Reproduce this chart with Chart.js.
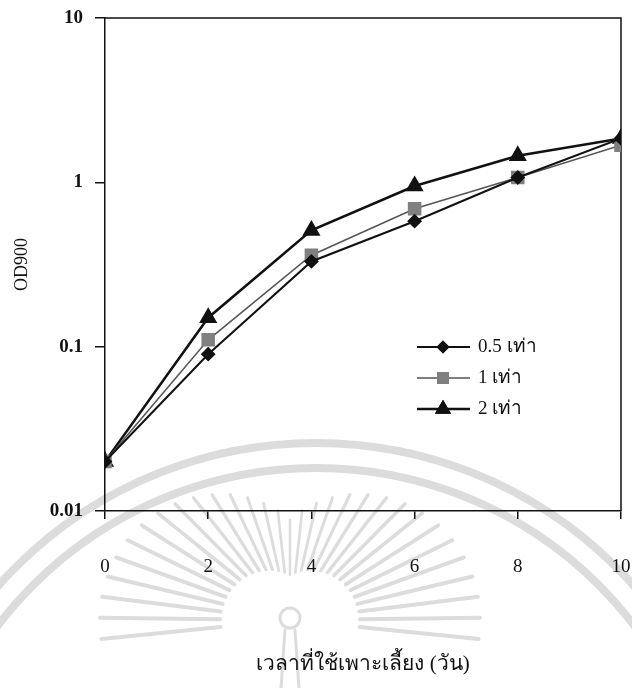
<!DOCTYPE html>
<html>
<head>
<meta charset="UTF-8">
<title>OD900</title>
<style>
  html, body { margin: 0; padding: 0; background: #fff; }
  #wrap { width: 632px; height: 688px; }
</style>
</head>
<body>
<div id="wrap"><canvas id="chart" width="632" height="688"></canvas></div>
<script src="https://cdn.jsdelivr.net/npm/chart.js@4/dist/chart.umd.min.js"></script>
<script>
  // culture time (days) and OD900 readings for each dose
  const days = [0, 2, 4, 6, 8, 10]
  const dose05 = [0.02, 0.09, 0.33, 0.58, 1.07, 1.85]
  const dose1 = [0.02, 0.11, 0.36, 0.69, 1.07, 1.68]
  const dose2 = [0.02, 0.15, 0.51, 0.95, 1.45, 1.85]
  const seriesNames = ['0.5 เท่า', '1 เท่า', '2 เท่า']
  const yTicks = [0.01, 0.1, 1, 10]
  const xTicks = [0, 2, 4, 6, 8, 10]

  const serif = "'Liberation Serif', 'Times New Roman', serif"

  const pts = vals => days.map((d, i) => ({ x: d, y: vals[i] }))

  const datasets = [
    { label: seriesNames[0], data: pts(dose05), borderColor: '#111', borderWidth: 2,
      pointStyle: 'rectRot', pointRadius: 6, pointBackgroundColor: '#111', pointBorderColor: '#111' },
    { label: seriesNames[1], data: pts(dose1), borderColor: '#555', borderWidth: 1.5,
      pointStyle: 'rect', pointRadius: 8.5, pointBackgroundColor: '#808080', pointBorderColor: '#808080' },
    { label: seriesNames[2], data: pts(dose2), borderColor: '#111', borderWidth: 2.5,
      pointStyle: 'triangle', pointRadius: 8, pointBackgroundColor: '#111', pointBorderColor: '#111' }
  ]

  // faint emblem printed behind the graph
  const emblem = {
    id: 'emblem',
    beforeDraw(chart) {
      const ctx = chart.ctx
      ctx.save()
      ctx.fillStyle = '#fff'
      ctx.fillRect(0, 0, chart.width, chart.height)
      ctx.strokeStyle = '#dcdcdc'
      ctx.lineCap = 'round'
      ctx.lineWidth = 8
      ctx.beginPath(); ctx.arc(316, 868, 425, Math.PI, 2 * Math.PI); ctx.stroke()
      ctx.beginPath(); ctx.arc(316, 868, 400, Math.PI, 2 * Math.PI); ctx.stroke()
      const cx = 290, cy = 620
      for (let i = 0; i <= 30; i++) {
        const a = -0.1 + i * (Math.PI + 0.2) / 30
        const c = Math.abs(Math.cos(a))
        const r0 = 45 + 25 * c, r1 = 100 + 90 * c
        ctx.lineWidth = 2.5 + 1.5 * c
        ctx.beginPath()
        ctx.moveTo(cx + Math.cos(a) * r0, cy - Math.sin(a) * r0)
        ctx.lineTo(cx + Math.cos(a) * r1, cy - Math.sin(a) * r1)
        ctx.stroke()
      }
      ctx.lineWidth = 3
      ctx.beginPath(); ctx.arc(cx, cy - 2, 10, 0, 2 * Math.PI); ctx.stroke()
      ctx.beginPath()
      ctx.moveTo(cx - 5, cy + 10); ctx.lineTo(cx - 9, 688)
      ctx.moveTo(cx + 5, cy + 10); ctx.lineTo(cx + 9, 688)
      ctx.stroke()
      ctx.restore()
    }
  }

  // top and right edges of the plot box
  const frame = {
    id: 'frame',
    beforeDatasetsDraw(chart) {
      const { ctx, chartArea: a } = chart
      ctx.save()
      ctx.strokeStyle = '#111'
      ctx.lineWidth = 1.5
      ctx.beginPath()
      ctx.moveTo(a.left, a.top); ctx.lineTo(a.right, a.top); ctx.lineTo(a.right, a.bottom)
      ctx.stroke()
      ctx.restore()
    }
  }

  // legend rows: line with marker, then label
  const lineLegend = {
    id: 'lineLegend',
    afterDraw(chart) {
      const ctx = chart.ctx
      ctx.save()
      ctx.font = '19px ' + serif
      ctx.textBaseline = 'middle'
      chart.data.datasets.forEach((ds, i) => {
        const y = 347 + i * 31
        ctx.strokeStyle = ds.borderColor
        ctx.lineWidth = ds.borderWidth
        ctx.beginPath(); ctx.moveTo(417, y); ctx.lineTo(470, y); ctx.stroke()
        Chart.helpers.drawPoint(ctx, {
          pointStyle: ds.pointStyle, radius: ds.pointRadius * 0.85, rotation: 0, borderWidth: 1
        }, 443, y)
        ctx.fillStyle = ds.pointBackgroundColor
        ctx.strokeStyle = ds.pointBorderColor
        ctx.fill(); ctx.stroke()
        ctx.fillStyle = '#111'
        ctx.fillText(ds.label, 478, y)
      })
      ctx.restore()
    }
  }

  const ctx = document.getElementById('chart').getContext('2d')
  const chart = new Chart(ctx, {
    type: 'line',
    data: { datasets: datasets },
    plugins: [emblem, frame, lineLegend],
    options: {
      animation: false,
      responsive: false,
      layout: { padding: { top: 18, right: 11, left: 0, bottom: 0 } },
      plugins: { legend: { display: false }, tooltip: { enabled: false } },
      elements: { line: { tension: 0 }, point: { borderWidth: 1 } },
      scales: {
        x: {
          type: 'linear', min: 0, max: 10,
          afterBuildTicks: s => { s.ticks = xTicks.map(v => ({ value: v })) },
          afterFit: s => { s.height = 177; s.paddingLeft = 0; s.paddingRight = 0 },
          grid: { drawOnChartArea: false, tickLength: 8, color: '#111', lineWidth: 1.5 },
          border: { display: true, color: '#111', width: 1.5 },
          ticks: { color: '#111', padding: 37, maxRotation: 0, font: { family: serif, size: 19 } },
          title: { display: true, text: 'เวลาที่ใช้เพาะเลี้ยง (วัน)', color: '#111',
                   padding: { top: 11, bottom: 11 }, font: { family: serif, size: 21 } }
        },
        y: {
          type: 'logarithmic', min: 0.01, max: 10,
          afterBuildTicks: s => { s.ticks = yTicks.map(v => ({ value: v })) },
          afterFit: s => { s.width = 105; s.paddingTop = 0; s.paddingBottom = 0 },
          grid: { drawOnChartArea: false, tickLength: 10, color: '#111', lineWidth: 1.5 },
          border: { display: true, color: '#111', width: 1.5 },
          ticks: { color: '#111', padding: 12, font: { family: serif, size: 19, weight: 'bold' },
                   callback: v => String(v) },
          title: { display: true, text: 'OD900', color: '#111',
                   padding: { top: 11, bottom: 0 }, font: { family: serif, size: 18 } }
        }
      }
    }
  })
</script>
</body>
</html>
